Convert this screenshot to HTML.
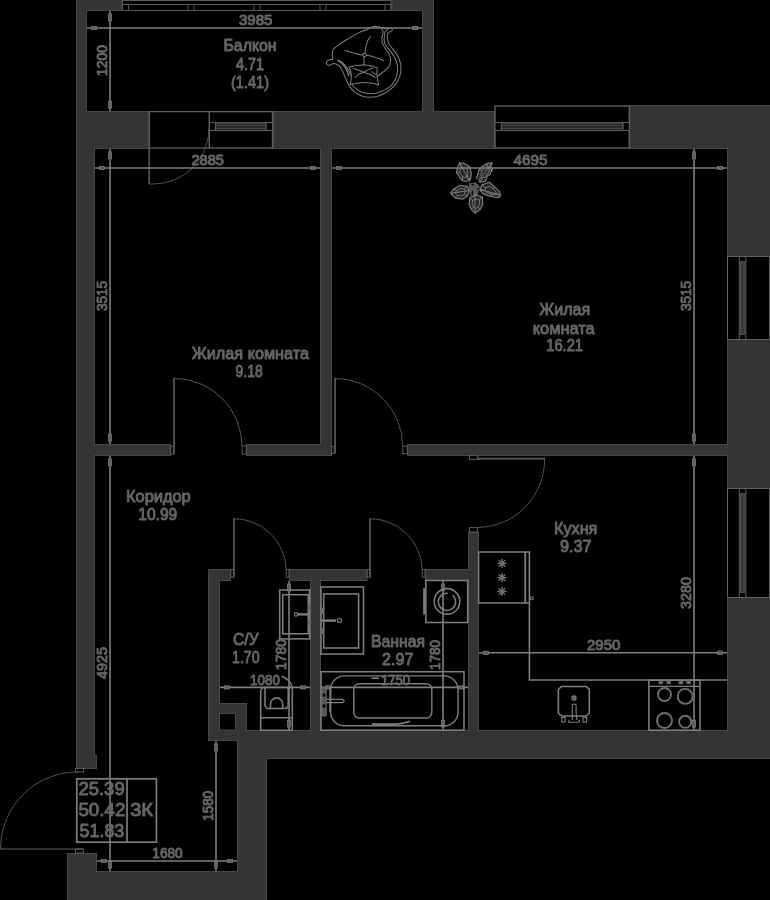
<!DOCTYPE html>
<html><head><meta charset="utf-8"><title>Plan</title>
<style>html,body{margin:0;padding:0;background:#000;}body{width:770px;height:900px;overflow:hidden;font-family:"Liberation Sans",sans-serif;}svg{display:block;}</style>
</head><body>
<svg width="770" height="900" viewBox="0 0 770 900">
<rect width="770" height="900" fill="#000"/>
<defs><clipPath id="wc"><path d="M76 -5L76 769L97 769L97 755L95 755L95 456L171 456L171 444L95 444L95 149L149.3 149L149.3 111L87 111L87 11L122.5 11L122.5 -5ZM246.2 444L246.2 456L332 456L332 149L495 149L495 111L434 111L434 -5L391.5 -5L391.5 11L422 11L422 111L272.5 111L272.5 149L320 149L320 444ZM231 569L208 569L208 741L237 741L237 871L97 871L97 853L67 853L67 905L267 905L267 759L775 759L775 597L727 597L727 730L479 730L479 532L468 532L468 569L425 569L425 581L468 581L468 730L321 730L321 581L367.4 581L367.4 569L289 569L289 581L310 581L310 730L247 730L247 703L220 703L220 581L231 581ZM775 257L775 105L629.3 105L629.3 149L727 149L727 257ZM727 339L727 444L407.2 444L407.2 456L727 456L727 489L775 489L775 339Z" clip-rule="evenodd"/></clipPath></defs>
<path d="M76 -5L76 769L97 769L97 755L95 755L95 456L171 456L171 444L95 444L95 149L149.3 149L149.3 111L87 111L87 11L122.5 11L122.5 -5ZM246.2 444L246.2 456L332 456L332 149L495 149L495 111L434 111L434 -5L391.5 -5L391.5 11L422 11L422 111L272.5 111L272.5 149L320 149L320 444ZM231 569L208 569L208 741L237 741L237 871L97 871L97 853L67 853L67 905L267 905L267 759L775 759L775 597L727 597L727 730L479 730L479 532L468 532L468 569L425 569L425 581L468 581L468 730L321 730L321 581L367.4 581L367.4 569L289 569L289 581L310 581L310 730L247 730L247 703L220 703L220 581L231 581ZM775 257L775 105L629.3 105L629.3 149L727 149L727 257ZM727 339L727 444L407.2 444L407.2 456L727 456L727 489L775 489L775 339Z" fill="#343434" fill-rule="evenodd" stroke="#474747" stroke-width="2" clip-path="url(#wc)"/>
<rect x="219.5" y="713.5" width="16" height="16.5" fill="#000" stroke="#474747" stroke-width="1"/>
<g fill="none" stroke="#606060" stroke-width="1.4"><rect x="209.2" y="111.6" width="63.3" height="36.4" fill="#000"/><path d="M209.2 123.2H272.5" stroke-width="2.2" stroke="#4a4a4a"/><path d="M209.2 130.4H272.5" stroke-width="1.3"/><rect x="215.7" y="125.2" width="50.3" height="3.2" fill="#262626" stroke="#585858" stroke-width="0.9"/><rect x="209.2" y="122.6" width="6.3" height="7.8" fill="#000" stroke-width="1"/><rect x="266.2" y="122.6" width="6.3" height="7.8" fill="#000" stroke-width="1"/></g>
<g fill="none" stroke="#606060" stroke-width="1.4"><rect x="495" y="106" width="134.3" height="42" fill="#000"/><path d="M495 123.2H629.3" stroke-width="2.2" stroke="#4a4a4a"/><path d="M495 130.4H629.3" stroke-width="1.3"/><rect x="501.5" y="125.2" width="121.3" height="3.2" fill="#262626" stroke="#585858" stroke-width="0.9"/><rect x="495" y="122.6" width="6.3" height="7.8" fill="#000" stroke-width="1"/><rect x="623" y="122.6" width="6.3" height="7.8" fill="#000" stroke-width="1"/></g>
<g fill="none" stroke="#606060" stroke-width="1"><rect x="727.5" y="256.5" width="41.9" height="83" fill="#000"/><path d="M739.3 256.5V339.5M745.8 256.5V339.5"/><rect x="740.5" y="261.5" width="4.1" height="73" fill="#3a3a3a" stroke="#4c4c4c"/></g>
<g fill="none" stroke="#606060" stroke-width="1"><rect x="727.5" y="488.5" width="41.9" height="109" fill="#000"/><path d="M739.3 488.5V597.5M745.8 488.5V597.5"/><rect x="740.5" y="493.5" width="4.1" height="99" fill="#3a3a3a" stroke="#4c4c4c"/></g>
<g fill="none" stroke="#585858" stroke-width="1"><rect x="122.5" y="0.5" width="268.5" height="10" fill="#000"/><path d="M122.5 4.5H391"/><rect x="122.5" y="4.5" width="6" height="6"/><rect x="188" y="4.5" width="6" height="6"/><rect x="254" y="4.5" width="6" height="6"/><rect x="320" y="4.5" width="6" height="6"/><rect x="385" y="4.5" width="6" height="6"/></g>
<rect x="149.4" y="111.6" width="59.8" height="36.4" fill="#000" stroke="#606060" stroke-width="1.3"/>
<g fill="none" stroke="#5a5a5a" stroke-width="1"><path d="M149.2 148V184" stroke-width="1.5"/><path d="M149 184H153.5A55.5 55.5 0 0 0 209 128.6" stroke-width="0.9"/><path d="M174 378V454.2" stroke-width="1.7"/><rect x="170.8" y="446" width="2.6" height="8.2"/><path d="M174 378.4A68.4 68.4 0 0 1 242.1 446" stroke-width="1"/><rect x="242.1" y="446" width="4.1" height="8.2"/><path d="M335.1 378V453.6" stroke-width="1.7"/><rect x="331.7" y="446.6" width="2.6" height="7"/><path d="M335 378.4A68.2 68.2 0 0 1 402.7 446" stroke-width="0.9"/><rect x="402.7" y="446" width="4.5" height="7.6"/><rect x="469.4" y="455.4" width="8" height="4"/><path d="M477.4 458.7H545" stroke-width="1.7"/><path d="M544.6 459A67.6 67.6 0 0 1 477.4 527.4" stroke-width="0.9"/><rect x="469.4" y="527.4" width="8" height="4.6"/><path d="M234 518.3V577.3" stroke-width="1.7"/><rect x="230.8" y="569.5" width="2.6" height="7.8"/><path d="M233.7 518.7A52.5 52.5 0 0 1 286.3 569.5" stroke-width="0.9"/><rect x="286.3" y="569.5" width="2.7" height="7.8"/><path d="M370 518.3V577.3" stroke-width="1.7"/><rect x="367.2" y="569.5" width="2.6" height="7.8"/><path d="M369.9 518.7A52.5 52.5 0 0 1 422.3 569.5" stroke-width="0.9"/><rect x="422.3" y="569.5" width="2.7" height="7.8"/><rect x="75.5" y="768.3" width="7.9" height="3.7"/><path d="M79 772A77 77 0 0 0 0.5 849" stroke-width="0.9"/><path d="M0 849H83"/><rect x="75.5" y="849" width="7.9" height="4"/></g>
<g fill="none" stroke="#7e7e7e"><path d="M87 28H422" stroke-width="1.6"/><rect x="91.4" y="26.4" width="5" height="3.2" fill="#5e5e5e" stroke="#767676" stroke-width="0.8"/><rect x="412.6" y="26.4" width="5" height="3.2" fill="#5e5e5e" stroke="#767676" stroke-width="0.8"/><path d="M110 11V111" stroke-width="1.6"/><rect x="108.4" y="14" width="3.2" height="6.8" fill="#5e5e5e" stroke="#767676" stroke-width="0.8"/><rect x="108.4" y="101.2" width="3.2" height="6.8" fill="#5e5e5e" stroke="#767676" stroke-width="0.8"/><path d="M95 168H320" stroke-width="1.6"/><rect x="99.4" y="166.4" width="5" height="3.2" fill="#5e5e5e" stroke="#767676" stroke-width="0.8"/><rect x="310.6" y="166.4" width="5" height="3.2" fill="#5e5e5e" stroke="#767676" stroke-width="0.8"/><path d="M110 149V444" stroke-width="1.6"/><rect x="108.4" y="152" width="3.2" height="6.8" fill="#5e5e5e" stroke="#767676" stroke-width="0.8"/><rect x="108.4" y="434.2" width="3.2" height="6.8" fill="#5e5e5e" stroke="#767676" stroke-width="0.8"/><path d="M332 168H727" stroke-width="1.6"/><rect x="336.4" y="166.4" width="5" height="3.2" fill="#5e5e5e" stroke="#767676" stroke-width="0.8"/><rect x="717.6" y="166.4" width="5" height="3.2" fill="#5e5e5e" stroke="#767676" stroke-width="0.8"/><path d="M694 149V444" stroke-width="1.6"/><rect x="692.4" y="152" width="3.2" height="6.8" fill="#5e5e5e" stroke="#767676" stroke-width="0.8"/><rect x="692.4" y="434.2" width="3.2" height="6.8" fill="#5e5e5e" stroke="#767676" stroke-width="0.8"/><path d="M110 456V871" stroke-width="1.6"/><rect x="108.4" y="459" width="3.2" height="6.8" fill="#5e5e5e" stroke="#767676" stroke-width="0.8"/><rect x="108.4" y="861.2" width="3.2" height="6.8" fill="#5e5e5e" stroke="#767676" stroke-width="0.8"/><path d="M694 456V730" stroke-width="1.6"/><rect x="692.4" y="459" width="3.2" height="6.8" fill="#5e5e5e" stroke="#767676" stroke-width="0.8"/><rect x="692.4" y="720.2" width="3.2" height="6.8" fill="#5e5e5e" stroke="#767676" stroke-width="0.8"/><path d="M479 652.8H727" stroke-width="1.6"/><rect x="483.4" y="651.2" width="5" height="3.2" fill="#5e5e5e" stroke="#767676" stroke-width="0.8"/><rect x="717.6" y="651.2" width="5" height="3.2" fill="#5e5e5e" stroke="#767676" stroke-width="0.8"/><path d="M289 581V730" stroke-width="1.6"/><rect x="287.4" y="584" width="3.2" height="6.8" fill="#5e5e5e" stroke="#767676" stroke-width="0.8"/><rect x="287.4" y="720.2" width="3.2" height="6.8" fill="#5e5e5e" stroke="#767676" stroke-width="0.8"/><path d="M220 687.4H310" stroke-width="1.6"/><rect x="224.4" y="685.8" width="5" height="3.2" fill="#5e5e5e" stroke="#767676" stroke-width="0.8"/><rect x="300.6" y="685.8" width="5" height="3.2" fill="#5e5e5e" stroke="#767676" stroke-width="0.8"/><path d="M443 581V730" stroke-width="1.6"/><rect x="441.4" y="584" width="3.2" height="6.8" fill="#5e5e5e" stroke="#767676" stroke-width="0.8"/><rect x="441.4" y="720.2" width="3.2" height="6.8" fill="#5e5e5e" stroke="#767676" stroke-width="0.8"/><path d="M321 687.4H468" stroke-width="1.6"/><rect x="325.4" y="685.8" width="5" height="3.2" fill="#5e5e5e" stroke="#767676" stroke-width="0.8"/><rect x="458.6" y="685.8" width="5" height="3.2" fill="#5e5e5e" stroke="#767676" stroke-width="0.8"/><path d="M97 861H237" stroke-width="1.6"/><rect x="101.4" y="859.4" width="5" height="3.2" fill="#5e5e5e" stroke="#767676" stroke-width="0.8"/><rect x="227.6" y="859.4" width="5" height="3.2" fill="#5e5e5e" stroke="#767676" stroke-width="0.8"/><path d="M216 741V871" stroke-width="1.6"/><rect x="214.4" y="744" width="3.2" height="6.8" fill="#5e5e5e" stroke="#767676" stroke-width="0.8"/><rect x="214.4" y="861.2" width="3.2" height="6.8" fill="#5e5e5e" stroke="#767676" stroke-width="0.8"/></g>
<g fill="none" stroke="#7e7e7e" stroke-width="1.55"><rect x="279.7" y="590" width="30" height="48.9"/><rect x="282.7" y="594.7" width="25.6" height="39.1"/><path d="M298 614.4H310" stroke-width="2.3"/><circle cx="296" cy="614.4" r="1.7" stroke-width="1.2"/><path d="M309 603.5v7M309 618.5v7" stroke-width="2.2" stroke="#6c6c6c"/><rect x="321" y="587" width="42.5" height="67"/><rect x="323.7" y="594" width="34.9" height="54"/><path d="M321 620.6H336" stroke-width="2.4"/><circle cx="339.5" cy="620.6" r="2.1" stroke-width="1.2"/><path d="M322.4 607.5v6.5M322.4 628.5v5.5" stroke-width="2.6" stroke="#6c6c6c"/><rect x="425.9" y="580.5" width="41.8" height="42"/><circle cx="447" cy="601.4" r="12.8"/><path d="M452.5 595.2A8.6 8.6 0 1 1 447.7 593.2"/><path d="M424.2 588.2V614.5" stroke-width="2.2"/><rect x="321" y="671.7" width="143" height="58.5"/><rect x="330.5" y="675.9" width="127.6" height="49.9" rx="14" ry="14" stroke-width="1.4"/><rect x="353.8" y="683.7" width="78" height="34.3" rx="5.5" ry="5.5" stroke-width="1.4"/><path d="M323 699.4H342.5L344.3 701L342.5 702.6H323Z" stroke-width="1.1"/><rect x="321.8" y="687.5" width="4.4" height="28.5" fill="#565656" stroke="#6e6e6e" stroke-width="0.9"/><rect x="322.6" y="693.6" width="2.8" height="3" fill="#000" stroke="none"/><rect x="322.6" y="704.4" width="2.8" height="3" fill="#000" stroke="none"/><path d="M330.3 687.5V712" stroke-width="1.8"/><path d="M371.5 678.2H379" stroke-width="1.6"/><path d="M372 724.2H394Q404 723.6 410 721.2" stroke-width="1.7"/><path d="M260.7 730.2V690.5L263 687.4H292.3V730.2Z"/><path d="M260.7 717.7H292.3"/><path d="M281.5 676.2Q290 679 292.3 687.4"/><path d="M265 687.4V705.8L267 708.5H286.2L288.2 705.8V687.4"/><path d="M270.5 708.5V704A6.1 6.1 0 0 1 282.7 704V708.5"/><rect x="478.6" y="552" width="50.8" height="51"/><path d="M525.2 552V603" stroke-width="1.8"/><path d="M529.4 603V680H727.3"/><rect x="530.5" y="597" width="2.6" height="2.6" stroke-width="0.9"/><rect x="648.9" y="680.2" width="51.1" height="50"/><path d="M648.9 686.4H700" stroke-width="1.1"/><g stroke-width="1.9" stroke="#707070"><circle cx="664.5" cy="694.5" r="6.5"/><circle cx="685.2" cy="696.4" r="7.5"/><circle cx="664.5" cy="720.5" r="7.5"/><circle cx="685.2" cy="721.8" r="6.1"/></g><rect x="658.6" y="680.6" width="4.5" height="3.6" rx="1" fill="#6a6a6a" stroke="none"/><rect x="666.4" y="680.6" width="4.5" height="3.6" rx="1" fill="#6a6a6a" stroke="none"/><rect x="678.6" y="680.6" width="4.5" height="3.6" rx="1" fill="#6a6a6a" stroke="none"/><rect x="686.3" y="680.6" width="4.5" height="3.6" rx="1" fill="#6a6a6a" stroke="none"/><path d="M561.4 686.4H586.3L589.3 689.4V713L586.3 716H561.4L558.4 713V689.4Z"/><circle cx="574" cy="698" r="2.1" fill="#666" stroke-width="1.1"/><path d="M572.3 720V705.2Q574.2 702.8 576.1 705.2V712L577 720" stroke-width="1.1"/><path d="M568.8 719.8V722.3H579.4V719.8" stroke-width="1.1"/><rect x="561.8" y="717.4" width="3.4" height="4.6" stroke-width="1.1"/><rect x="583" y="717.4" width="3.6" height="4.6" stroke-width="1.1"/></g>
<g stroke="#7e7e7e" stroke-width="1.2" fill="none"><path d="M497.40 563.40L506.60 563.40"/><path d="M498.75 560.15L505.25 566.65"/><path d="M502.00 558.80L502.00 568.00"/><path d="M505.25 560.15L498.75 566.65"/><circle cx="502" cy="563.4" r="2.5" fill="#6c6c6c" stroke="none"/><path d="M497.40 577.60L506.60 577.60"/><path d="M498.75 574.35L505.25 580.85"/><path d="M502.00 573.00L502.00 582.20"/><path d="M505.25 574.35L498.75 580.85"/><circle cx="502" cy="577.6" r="2.5" fill="#6c6c6c" stroke="none"/><path d="M497.40 591.40L506.60 591.40"/><path d="M498.75 588.15L505.25 594.65"/><path d="M502.00 586.80L502.00 596.00"/><path d="M505.25 588.15L498.75 594.65"/><circle cx="502" cy="591.4" r="2.5" fill="#6c6c6c" stroke="none"/></g>
<g fill="none" stroke="#7e7e7e" stroke-width="1.7"><rect x="76.8" y="778.8" width="79.6" height="63.4"/><path d="M127 778.8V842.2"/></g>
<g transform="translate(320 20) scale(0.11688)" fill="none" stroke="#7e7e7e" stroke-width="8.6" stroke-linecap="round" stroke-linejoin="round"><path d="M520 62C470 50 440 55 420 75C390 85 360 95 330 110C300 125 275 140 250 155C222 172 195 188 170 205C150 220 130 235 115 250C105 262 103 275 105 290C106 305 108 318 110 332"/><path d="M112 335C90 335 72 340 60 352C50 365 55 382 75 388C95 388 100 372 120 372C150 375 165 392 180 415C195 440 205 470 220 500C232 530 245 560 265 585C290 615 325 640 370 655C410 665 450 665 500 650C545 635 590 610 625 575C660 540 685 490 692 440C697 390 685 340 660 300C640 265 610 235 590 205C578 175 572 140 580 112C590 100 612 100 620 85C622 72 610 68 580 70L520 65"/><path d="M525 75C535 85 545 95 540 110C530 140 525 170 535 200C545 230 570 260 590 290C605 320 608 355 598 385C580 415 550 440 520 460L492 482"/><path d="M585 72C570 85 560 95 555 105C548 140 545 175 555 205C580 245 615 280 640 320C660 360 668 410 662 450C652 500 630 545 595 575C560 600 520 618 480 626C440 632 400 630 365 620C325 605 295 580 272 550"/><path d="M250 402C290 390 340 384 390 386C425 388 460 395 490 410C488 430 485 450 487 472C490 500 495 528 502 556C478 546 455 540 430 538C395 534 360 534 325 538C300 542 280 547 260 552C265 525 268 498 268 470C266 445 258 422 250 402Z"/><path d="M290 415C320 425 345 435 370 447C395 432 420 420 452 410M300 492C320 470 345 455 370 447C405 455 440 470 470 492M445 440C455 455 470 462 480 468"/><circle cx="381" cy="300" r="15"/><path d="M383 285C388 250 395 215 405 185C412 165 422 150 432 140M366 300C335 300 310 292 285 282C260 272 238 265 215 258M396 302C430 305 465 315 495 328C515 335 530 342 546 348M376 315V382"/><path d="M150 342C180 352 205 372 225 398C240 418 250 440 262 470"/><path d="M160 350C185 365 205 385 220 410C232 432 240 455 245 478" stroke-width="12"/></g>
<g transform="translate(440 155) scale(0.090909)" fill="none" stroke="#7e7e7e" stroke-width="13" stroke-linejoin="round"><path d="M215 85L270 95L325 130L345 200L335 270L280 292L240 280L215 240L180 195L195 130Z" fill="#7e7e7e" fill-opacity="0.3"/><path d="M330 300L215 85" stroke-width="11"/><path d="M235 133L266 139L296 158L307 196L301 235L271 247L249 240L235 218L216 194L224 158Z" stroke-width="10"/><path d="M235 133L215 85" stroke-width="10"/><path d="M296 158L325 130" stroke-width="10"/><path d="M301 235L335 270" stroke-width="10"/><path d="M249 240L240 280" stroke-width="10"/><path d="M216 194L180 195" stroke-width="10"/><path d="M575 85L560 120L575 160L550 215L520 232L500 290L440 300L400 262L430 160L480 115L520 95Z" fill="#7e7e7e" fill-opacity="0.3"/><path d="M410 300L575 85" stroke-width="11"/><path d="M543 130L535 149L543 171L530 201L513 211L502 243L469 248L447 227L464 171L491 146L513 135Z" stroke-width="10"/><path d="M543 130L575 85" stroke-width="10"/><path d="M543 171L575 160" stroke-width="10"/><path d="M513 211L520 232" stroke-width="10"/><path d="M469 248L440 300" stroke-width="10"/><path d="M464 171L430 160" stroke-width="10"/><path d="M513 135L520 95" stroke-width="10"/><path d="M460 330L540 300L600 350L650 395L668 445L640 470L560 455L480 430L440 390Z" fill="#7e7e7e" fill-opacity="0.3"/><path d="M420 370L668 445" stroke-width="11"/><path d="M505 360L549 343L582 371L609 396L619 423L604 437L560 428L516 415L494 393Z" stroke-width="10"/><path d="M505 360L460 330" stroke-width="10"/><path d="M582 371L600 350" stroke-width="10"/><path d="M619 423L668 445" stroke-width="10"/><path d="M560 428L560 455" stroke-width="10"/><path d="M494 393L440 390" stroke-width="10"/><path d="M330 470L400 440L465 460L470 540L440 600L385 640L345 600L320 540Z" fill="#7e7e7e" fill-opacity="0.3"/><path d="M385 420L385 640" stroke-width="11"/><path d="M359 500L397 483L433 494L436 538L419 571L389 593L367 571L353 538Z" stroke-width="10"/><path d="M359 500L330 470" stroke-width="10"/><path d="M433 494L465 460" stroke-width="10"/><path d="M419 571L440 600" stroke-width="10"/><path d="M367 571L345 600" stroke-width="10"/><path d="M300 345L215 335L150 375L115 420L170 475L250 485L300 450L320 400Z" fill="#7e7e7e" fill-opacity="0.3"/><path d="M330 390L115 420" stroke-width="11"/><path d="M267 375L221 369L185 391L166 416L196 446L240 452L267 432L278 405Z" stroke-width="10"/><path d="M267 375L300 345" stroke-width="10"/><path d="M185 391L150 375" stroke-width="10"/><path d="M196 446L170 475" stroke-width="10"/><path d="M267 432L300 450" stroke-width="10"/><path d="M322 312L395 300L436 345L415 440L340 452L312 380Z" fill="#7e7e7e" stroke="none" opacity="0.7"/><circle cx="405" cy="285" r="20" fill="#000" stroke="none"/><ellipse cx="360" cy="325" rx="15" ry="10" fill="#000" stroke="none"/><ellipse cx="356" cy="415" rx="9" ry="25" fill="#000" stroke="none"/><ellipse cx="418" cy="372" rx="13" ry="8" fill="#000" stroke="none"/></g>
<g font-family="'Liberation Sans', sans-serif" fill="#666666" stroke="#666666" stroke-width="0.95" stroke-linejoin="round" text-anchor="middle" opacity="0.999"><text x="250" y="51.2" font-size="16.6" textLength="53" lengthAdjust="spacingAndGlyphs" >Балкон</text><text x="250" y="69.7" font-size="16.6" textLength="28" lengthAdjust="spacingAndGlyphs" >4.71</text><text x="250" y="87.7" font-size="16.6" textLength="38" lengthAdjust="spacingAndGlyphs" >(1.41)</text><text x="250.4" y="359.2" font-size="16.6" textLength="117.2" lengthAdjust="spacingAndGlyphs" >Жилая комната</text><text x="249.1" y="376.9" font-size="16.6" textLength="27.2" lengthAdjust="spacingAndGlyphs" >9.18</text><text x="564.8" y="314.7" font-size="16.6" textLength="51" lengthAdjust="spacingAndGlyphs" >Жилая</text><text x="563.7" y="333.7" font-size="16.6" textLength="62" lengthAdjust="spacingAndGlyphs" >комната</text><text x="564.65" y="351.4" font-size="16.6" textLength="36.7" lengthAdjust="spacingAndGlyphs" >16.21</text><text x="158.35" y="502.4" font-size="16.6" textLength="64.7" lengthAdjust="spacingAndGlyphs" >Коридор</text><text x="157.8" y="520.4" font-size="16.6" textLength="39" lengthAdjust="spacingAndGlyphs" >10.99</text><text x="575.7" y="533.7" font-size="16.6" textLength="43.4" lengthAdjust="spacingAndGlyphs" >Кухня</text><text x="575.8" y="552.1" font-size="16.6" textLength="31.6" lengthAdjust="spacingAndGlyphs" >9.37</text><text x="245.8" y="644.7" font-size="16.6" textLength="25.6" lengthAdjust="spacingAndGlyphs" >С/У</text><text x="245.8" y="663.1" font-size="16.6" textLength="27.6" lengthAdjust="spacingAndGlyphs" >1.70</text><text x="398" y="646.7" font-size="16.6" textLength="54" lengthAdjust="spacingAndGlyphs" >Ванная</text><text x="397.7" y="665.3" font-size="16.6" textLength="31.4" lengthAdjust="spacingAndGlyphs" >2.97</text><text x="255.75" y="24.7" font-size="14" textLength="33.5" lengthAdjust="spacingAndGlyphs" >3985</text><text x="207.75" y="164.7" font-size="14" textLength="32.5" lengthAdjust="spacingAndGlyphs" >2885</text><text x="530.5" y="164.7" font-size="14" textLength="34" lengthAdjust="spacingAndGlyphs" >4695</text><text x="603.65" y="650.4" font-size="14" textLength="33.3" lengthAdjust="spacingAndGlyphs" >2950</text><text x="265" y="685.1" font-size="14" textLength="30" lengthAdjust="spacingAndGlyphs" >1080</text><text x="395.5" y="685.3" font-size="14" textLength="29" lengthAdjust="spacingAndGlyphs" >1750</text><text x="167.5" y="858" font-size="14" textLength="30.4" lengthAdjust="spacingAndGlyphs" >1680</text><text transform="translate(102.5 60.5) rotate(-90)" x="0" y="4.5" font-size="14" textLength="31" lengthAdjust="spacingAndGlyphs">1200</text><text transform="translate(102.5 296) rotate(-90)" x="0" y="4.5" font-size="14" textLength="30.2" lengthAdjust="spacingAndGlyphs">3515</text><text transform="translate(686.4 296) rotate(-90)" x="0" y="4.5" font-size="14" textLength="30.2" lengthAdjust="spacingAndGlyphs">3515</text><text transform="translate(102.5 663) rotate(-90)" x="0" y="4.5" font-size="14" textLength="32" lengthAdjust="spacingAndGlyphs">4925</text><text transform="translate(686.4 593) rotate(-90)" x="0" y="4.5" font-size="14" textLength="32" lengthAdjust="spacingAndGlyphs">3280</text><text transform="translate(281.7 654.5) rotate(-90)" x="0" y="4.5" font-size="14" textLength="31" lengthAdjust="spacingAndGlyphs">1780</text><text transform="translate(435.7 655) rotate(-90)" x="0" y="4.5" font-size="14" textLength="30" lengthAdjust="spacingAndGlyphs">1780</text><text transform="translate(208.3 805.7) rotate(-90)" x="0" y="4.5" font-size="14" textLength="30" lengthAdjust="spacingAndGlyphs">1580</text><text x="101.55" y="795" font-size="18" textLength="46.3" lengthAdjust="spacingAndGlyphs" >25.39</text><text x="101.95" y="815.9" font-size="18" textLength="47.1" lengthAdjust="spacingAndGlyphs" >50.42</text><text x="101.9" y="837.3" font-size="18" textLength="44.8" lengthAdjust="spacingAndGlyphs" >51.83</text><text x="141.6" y="815.9" font-size="18" textLength="22.8" lengthAdjust="spacingAndGlyphs" >3К</text></g>
</svg>
</body></html>
